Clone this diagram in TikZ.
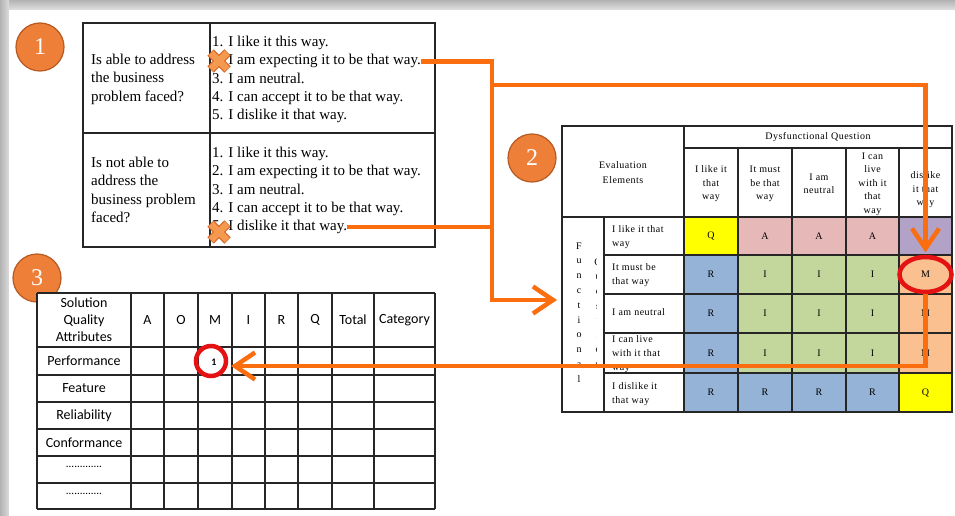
\documentclass[tikz,border=0pt]{standalone}
\usepackage{fontspec}
\setmainfont{Liberation Serif}
\newfontfamily\calibrifont{Carlito}
\newfontfamily\kanofont[LetterSpace=5]{Liberation Serif}
\usetikzlibrary{arrows.meta,calc,shapes.geometric}

\definecolor{flow}{HTML}{FA6E10}
\definecolor{badgefill}{HTML}{EE7F38}
\definecolor{badgeedge}{HTML}{B65A22}
\definecolor{ringred}{HTML}{E41212}
\definecolor{crossfill}{HTML}{F49A50}
\definecolor{crossedge}{HTML}{D9692A}
\definecolor{kQ}{HTML}{FFFF00}
\definecolor{kA}{HTML}{E6B9B8}
\definecolor{kO}{HTML}{B3A2C7}
\definecolor{kR}{HTML}{95B3D7}
\definecolor{kI}{HTML}{C3D69B}
\definecolor{kM}{HTML}{FAC090}
\definecolor{gridline}{HTML}{262626}

\tikzset{
  xmark/.pic={
    \draw[crossedge,line width=9pt] (-8.5,-8.5) -- (8.5,8.5) (-8.5,8.5) -- (8.5,-8.5);
    \draw[crossfill,line width=6.5pt] (-8,-8) -- (8,8) (-8,8) -- (8,-8);
  }
}

\begin{document}
\begin{tikzpicture}[x=1pt,y=-1pt,
  grid/.style={draw=gridline,line width=1.2pt},
  badge/.style={circle,minimum size=48pt,inner sep=0pt,fill=badgefill,draw=badgeedge,
    line width=1.2pt,text=white,font=\fontsize{24}{24}\selectfont},
  survey/.style={anchor=west,inner sep=0pt,text height=10pt,text depth=3pt,
    font=\fontsize{15}{18}\selectfont},
  kano/.style={inner sep=0pt,align=center,font=\kanofont\fontsize{10}{13.5}\selectfont},
  kanorow/.style={anchor=west,inner sep=0pt,text height=7pt,text depth=2pt,
    font=\kanofont\fontsize{10}{13}\selectfont},
  tally/.style={inner sep=0pt,align=center,font=\calibrifont\fontsize{14}{17}\selectfont},
  flowline/.style={draw=flow,line width=4.5pt},
  flowarrow/.style={flowline,-{Straight Barb[length=20pt,width=27pt]}},
  ring/.style={draw=ringred,line width=4.5pt}
]
\useasboundingbox (0,0) rectangle (955,516);

% page with a soft grey edge
\fill[black!20] (0,0) rectangle (955,516);
\shade[top color=black!30,bottom color=black!12] (0,0) rectangle (955,10);
\shade[left color=black!30,right color=black!14] (0,0) rectangle (9,516);
\fill[white] (9,10) rectangle (955,516);

% step badges
\node[badge] (b1) at (40,47) {1};
\node[badge] (b2) at (532,158) {2};

% ---------- questionnaire ----------
\fill[white] (83,23) rectangle (435,247);
\draw[grid] (83,23) rectangle (435,247);
\draw[grid] (210,23) -- (210,247);
\draw[grid] (83,133) -- (435,133);

\foreach \t [count=\i] in {Is able to address, the business, problem faced?}
  \node[survey] (qa\i) at (91,{43+18.2*\i}) {\t};
\foreach \t [count=\i] in {Is not able to, address the, business problem, faced?}
  \node[survey] (qb\i) at (91,{146+18.2*\i}) {\t};
\foreach \t [count=\i] in {1. I like it this way., 2. I am expecting it to be that way.,
    3. I am neutral., 4. I can accept it to be that way., 5. I dislike it that way.}
  \node[survey] (ra\i) at (212,{25+18.2*\i}) {\t};
\foreach \t [count=\i] in {1. I like it this way., 2. I am expecting it to be that way.,
    3. I am neutral., 4. I can accept it to be that way., 5. I dislike it that way.}
  \node[survey] (rb\i) at (212,{136+18.2*\i}) {\t};

% chosen answers
\pic at (219,61) {xmark};
\pic at (219,232) {xmark};

% ---------- Kano evaluation table ----------
\foreach \xa/\xb/\fc/\lab [count=\c] in {684/738/kQ/Q,738/792/kA/A,792/846/kA/A,846/899/kA/A}{
  \fill[\fc] (\xa,217) rectangle (\xb,255);
  \node[kano] (k1-\c) at ({(\xa+\xb)/2},236) {\lab};
}
\fill[kO] (899,217) rectangle (952,255);
\foreach \ya/\yb [count=\r from 2] in {255/294,294/333,333/373}{
  \foreach \xa/\xb/\fc/\lab [count=\c] in {684/738/kR/R,738/792/kI/I,792/846/kI/I,846/899/kI/I,899/952/kM/M}{
    \fill[\fc] (\xa,\ya) rectangle (\xb,\yb);
    \node[kano] (k\r-\c) at ({(\xa+\xb)/2},{(\ya+\yb)/2}) {\lab};
  }
}
\foreach \xa/\xb/\fc/\lab [count=\c] in {684/738/kR/R,738/792/kR/R,792/846/kR/R,846/899/kR/R,899/952/kQ/Q}{
  \fill[\fc] (\xa,373) rectangle (\xb,412);
  \node[kano] (k5-\c) at ({(\xa+\xb)/2},392.5) {\lab};
}

\draw[grid] (562,126) rectangle (952,412);
\draw[grid] (684,126) -- (684,412);
\draw[grid] (684,148) -- (952,148);
\draw[grid] (562,217) -- (952,217);
\draw[grid] (604,217) -- (604,412);
\foreach \x in {738,792,846,899} \draw[grid] (\x,148) -- (\x,412);
\foreach \y in {255,294,333,373} \draw[grid] (604,\y) -- (952,\y);

\node[kano,font=\kanofont\fontsize{10}{15}\selectfont] (evalhead) at (623,172.5) {Evaluation\\Elements};
\node[kano] (dyshead) at (818,137) {Dysfunctional Question};
\node[kano] (h1) at (711,184) {I like it\\that\\way};
\node[kano] (h2) at (765,184) {It must\\be that\\way};
\node[kano] (h3) at (819,184) {I am\\neutral};
\node[kano] (h4) at (872.5,184) {I can\\live\\with it\\that\\way};
\node[kano] (h5) at (925.5,190) {dislike\\it that\\way};

\node[kanorow] (f1a) at (612,230) {I like it that};
\node[kanorow] (f1b) at (612,244) {way};
\node[kanorow] (f2a) at (612,268) {It must be};
\node[kanorow] (f2b) at (612,282) {that way};
\node[kanorow] (f3a) at (612,313) {I am neutral};
\node[kanorow] (f4a) at (612,340) {I can live};
\node[kanorow] (f4b) at (612,354) {with it that};
\node[kanorow] (f4c) at (612,368) {way};
\node[kanorow] (f5a) at (612,387) {I dislike it};
\node[kanorow] (f5b) at (612,401) {that way};

\node[kano,font=\kanofont\fontsize{10}{14.8}\selectfont] (funcword) at (579,312.5)
  {F\\u\\n\\c\\t\\i\\o\\n\\a\\l};
\begin{scope}
  \clip (586,217) rectangle (596.5,412);
  \node[kano,font=\kanofont\fontsize{10}{14.6}\selectfont] (questword) at (598,313)
    {Q\\u\\e\\s\\t\\i\\o\\n};
\end{scope}

% ---------- tally table ----------
\node[badge] (b3) at (37,278) {3};
\fill[white] (37,293) rectangle (435,509);
\foreach \x in {37,131,164,198,232,265,298,332,374,435} \draw[grid] (\x,293) -- (\x,509);
\foreach \y in {293,347,375,402,429,456,483,509} \draw[grid] (37,\y) -- (435,\y);

\node[tally] (attr) at (84,320) {Solution\\Quality\\Attributes};
\foreach \lab/\x [count=\i] in {A/147.5,O/181,M/215,I/248.5,R/281.5,Q/315,Total/353,Category/404.5}
  \node[tally] (col\i) at (\x,320) {\lab};
\foreach \lab/\y [count=\i] in {Performance/361,Feature/388.5,Reliability/415.5,Conformance/442.5}
  \node[tally] (row\i) at (84,\y) {\lab};
\node[tally,font=\calibrifont\fontsize{11}{11}\selectfont] (row5) at (84,467) {.............};
\node[tally,font=\calibrifont\fontsize{11}{11}\selectfont] (row6) at (84,494) {.............};
\node[tally,font=\calibrifont\bfseries\fontsize{10}{10}\selectfont] (one) at (214,362) {1};

% ---------- markers and flow ----------
\node[ring,circle,minimum size=30pt,inner sep=0pt] (onering) at (211,361) {};

\coordinate (fork) at (492,85);
\coordinate (foot) at (492,300);
\coordinate (funTip) at (557,300);
\coordinate (dysTip) at ($(k2-5)+(0,-22)$);
\coordinate (oneTip) at (231,366);

\draw[flowarrow] (ra2.east) -| (foot) -- (funTip);
\draw[flowline] (rb5.east) -- (rb5.east -| foot);
\draw[flowarrow] (fork) -| (dysTip);

\node[ring,ellipse,minimum width=52pt,minimum height=35pt,inner sep=0pt] (mring) at (k2-5) {};
\draw[flowarrow] (mring.south) |- (oneTip);
\end{tikzpicture}
\end{document}
